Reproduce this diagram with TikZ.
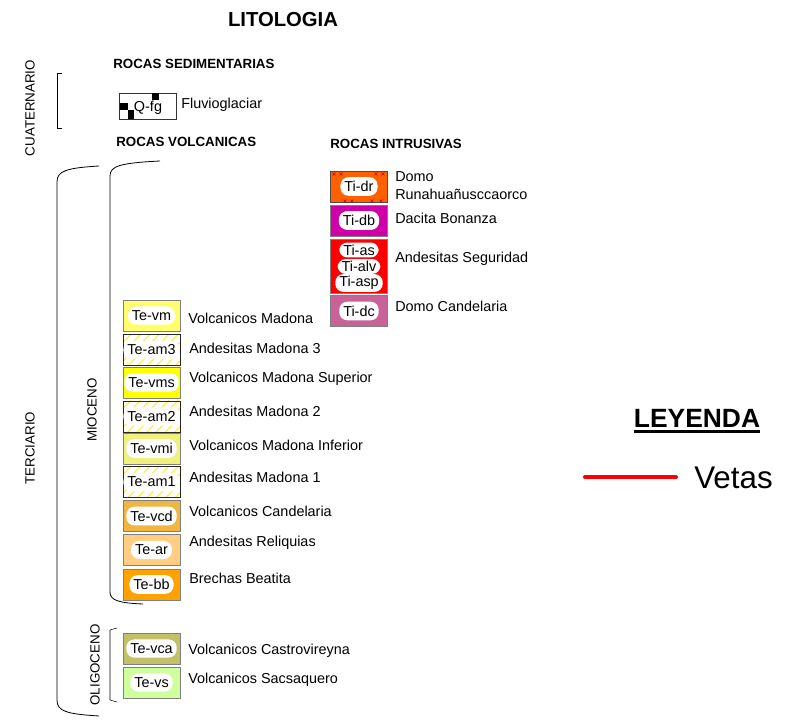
\documentclass[tikz,border=0pt]{standalone}
\usepackage{fontspec}
\setmainfont{Liberation Sans}
\usetikzlibrary{patterns.meta,positioning}

\definecolor{c_dr}{RGB}{255,96,0}
\definecolor{c_db}{RGB}{208,0,168}
\definecolor{c_as}{RGB}{255,0,0}
\definecolor{c_dc}{RGB}{200,98,152}
\definecolor{c_vm}{RGB}{255,255,110}
\definecolor{c_vms}{RGB}{255,255,0}
\definecolor{c_vmi}{RGB}{240,240,125}
\definecolor{c_vcd}{RGB}{240,182,64}
\definecolor{c_ar}{RGB}{255,206,130}
\definecolor{c_bb}{RGB}{255,162,0}
\definecolor{c_vca}{RGB}{196,192,104}
\definecolor{c_vs}{RGB}{206,255,156}
\definecolor{c_hatch}{RGB}{250,235,60}

\begin{document}
\begin{tikzpicture}[x=0.75pt,y=-0.75pt,
  unit_box/.style={draw=black!50, minimum width=42.75pt, minimum height=23.5pt, inner sep=0pt},
  hatch_box/.style={unit_box, draw=black!85, pattern={Lines[angle=45,distance=5pt,line width=0.8pt]}, pattern color=c_hatch},
  unit_tag/.style={fill=white, rounded corners=6pt, inner xsep=3pt, inner ysep=3pt, font=\fontsize{10.8}{12}\selectfont},
  unit_text/.style={anchor=west, inner sep=0pt, align=left, font=\fontsize{10.8}{13}\selectfont},
  era_label/.style={rotate=90, inner sep=0pt, font=\fontsize{10}{12}\selectfont},
  head_label/.style={anchor=west, inner sep=0pt, font=\bfseries\fontsize{10}{12}\selectfont}]

    \useasboundingbox (0,0) rectangle (795,720);

    % titulos
    \node[inner sep=0pt, font=\bfseries\fontsize{15.2}{18}\selectfont] (title) at (283,20) {LITOLOGIA};
    \node[head_label] (sed) at (113,64) {ROCAS SEDIMENTARIAS};
    \node[head_label] (volc) at (116,142) {ROCAS VOLCANICAS};
    \node[head_label] (intr) at (330,144) {ROCAS INTRUSIVAS};

    % eras y epocas
    \node[era_label] (cuat) at (30,108) {CUATERNARIO};
    \node[era_label] (terc) at (30,448) {TERCIARIO};
    \node[era_label] (mio) at (92,410) {MIOCENO};
    \node[era_label] (oligo) at (95,665) {OLIGOCENO};

    \draw[thin] (62,73) -- (57,73) -- (57,128) -- (62,128);
    \draw[semithick] (99,166) .. controls (66,168) and (57,171) .. (57,182) -- (57,700) .. controls (57,711) and (66,714) .. (99,716);
    \draw[semithick] (160,161) .. controls (120,163) and (110,166) .. (110,176) -- (110,592) .. controls (110,600) and (118,603) .. (143,604);
    \draw[thin] (117,628) -- (110,630) -- (110,700) -- (117,702);

    % cuaternario
    \node[draw=black!80, fill=white, minimum width=42.75pt, minimum height=19.5pt, inner sep=0pt] (qfg) at (148,106) {};
    \fill (152,93) rectangle (159,100);
    \fill (120,103) rectangle (128,110);
    \fill (128,110) rectangle (134,119);
    \node[inner sep=1pt, font=\fontsize{10.8}{12}\selectfont] (qfg_tag) at (148,107.5) {Q-fg};
    \node[unit_text] (qfg_txt) at (181,105) {Fluvioglaciar};

    % rocas intrusivas
    \node[unit_box, draw=black!70, fill=c_dr] (dr) at (359,186.5) {};
    \foreach \px/\py in {334/174, 341/174, 376/174, 383/174, 345/201, 352/201, 372/201, 381/201}
        \draw[red!80!black, line width=0.5pt] (\px-1.5,\py-1.5) -- (\px+1.5,\py+1.5) (\px-1.5,\py+1.5) -- (\px+1.5,\py-1.5);
    \node[unit_tag] (dr_tag) at (dr) {Ti-dr};
    \node[unit_text] (dr_txt) at (395,185.5) {Domo\\Runahuañusccaorco};

    \node[unit_box, fill=c_db] (db) at (359,220.5) {};
    \node[unit_tag] (db_tag) at (db) {Ti-db};
    \node[unit_text] (db_txt) at (395,218) {Dacita Bonanza};

    \node[draw=black!50, fill=c_as, minimum width=42.75pt, minimum height=40.5pt, inner sep=0pt] (as) at (359,266) {};
    \node[unit_tag, inner ysep=1.6pt] (as_tag) at (359,250) {Ti-as};
    \node[unit_tag, inner ysep=1.6pt] (alv_tag) at (359,266.5) {Ti-alv};
    \node[unit_tag, inner ysep=1.6pt] (asp_tag) at (359,283) {Ti-asp};
    \node[unit_text] (as_txt) at (395,259) {Andesitas Seguridad};

    \node[unit_box, fill=c_dc] (dc) at (359,311) {};
    \node[unit_tag] (dc_tag) at (dc) {Ti-dc};
    \node[unit_text] (dc_txt) at (395,306) {Domo Candelaria};

    % rocas volcanicas - mioceno
    \node[unit_box, fill=c_vm] (vm) at (151.5,315.5) {};
    \node[unit_tag] (vm_tag) at (vm) {Te-vm};
    \node[unit_text] (vm_txt) at (188,318) {Volcanicos Madona};

    \node[hatch_box] (am3) at (151.5,350) {};
    \node[unit_tag] (am3_tag) at (am3) {Te-am3};
    \node[unit_text] (am3_txt) at (189,348) {Andesitas Madona 3};

    \node[unit_box, fill=c_vms] (vms) at (151.5,382.5) {};
    \node[unit_tag] (vms_tag) at (vms) {Te-vms};
    \node[unit_text] (vms_txt) at (189,379) {Volcanicos Madona Superior};

    \node[hatch_box] (am2) at (151.5,416.5) {};
    \node[unit_tag] (am2_tag) at (am2) {Te-am2};
    \node[unit_text] (am2_txt) at (189,411) {Andesitas Madona 2};

    \node[unit_box, fill=c_vmi] (vmi) at (151.5,448.5) {};
    \node[unit_tag] (vmi_tag) at (vmi) {Te-vmi};
    \node[unit_text] (vmi_txt) at (189,445) {Volcanicos Madona Inferior};

    \node[hatch_box] (am1) at (151.5,482) {};
    \node[unit_tag] (am1_tag) at (am1) {Te-am1};
    \node[unit_text] (am1_txt) at (189,477) {Andesitas Madona 1};

    \node[unit_box, fill=c_vcd] (vcd) at (151.5,516) {};
    \node[unit_tag] (vcd_tag) at (vcd) {Te-vcd};
    \node[unit_text] (vcd_txt) at (189,511) {Volcanicos Candelaria};

    \node[unit_box, fill=c_ar] (ar) at (151.5,550) {};
    \node[unit_tag] (ar_tag) at (ar) {Te-ar};
    \node[unit_text] (ar_txt) at (189,543) {Andesitas Reliquias};

    \node[unit_box, fill=c_bb] (bb) at (151.5,584.5) {};
    \node[unit_tag] (bb_tag) at (bb) {Te-bb};
    \node[unit_text] (bb_txt) at (189,578) {Brechas Beatita};

    % rocas volcanicas - oligoceno
    \node[unit_box, fill=c_vca] (vca) at (151.5,648.5) {};
    \node[unit_tag] (vca_tag) at (vca) {Te-vca};
    \node[unit_text] (vca_txt) at (188,651) {Volcanicos Castrovireyna};

    \node[unit_box, fill=c_vs] (vs) at (151.5,682.5) {};
    \node[unit_tag] (vs_tag) at (vs) {Te-vs};
    \node[unit_text] (vs_txt) at (188,680) {Volcanicos Sacsaquero};

    % leyenda
    \node[inner sep=0pt, font=\bfseries\fontsize{19.8}{22}\selectfont] (leg) at (697,418) {LEYENDA};
    \draw[line width=2pt] ([yshift=-3.5pt]leg.base west) -- ([yshift=-3.5pt]leg.base east);
    \coordinate (vein_a) at (585,477);
    \coordinate (vein_b) at (676,477);
    \draw[red, line width=3pt, line cap=round] (vein_a) -- (vein_b);
    \node[anchor=west, inner sep=0pt, font=\fontsize{23.5}{26}\selectfont] (vetas) at (694,478) {Vetas};

\end{tikzpicture}
\end{document}
